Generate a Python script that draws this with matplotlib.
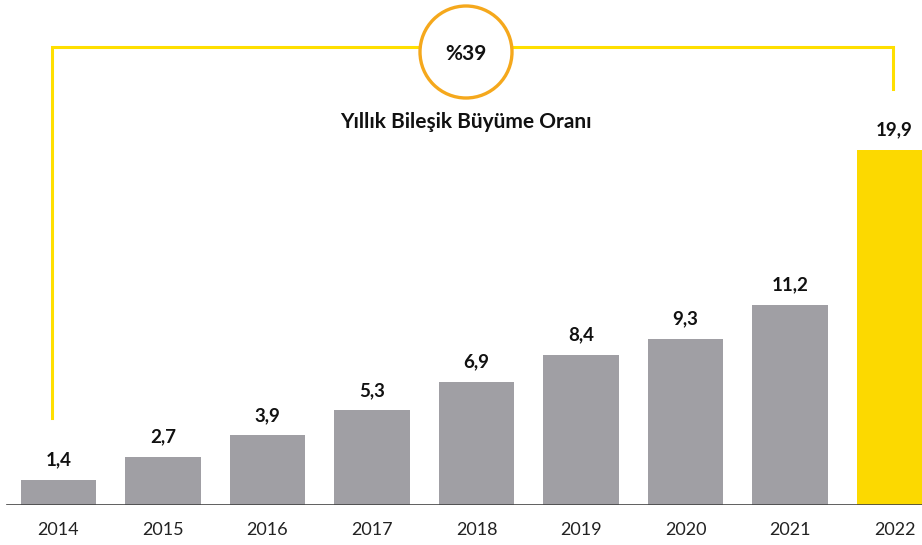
import matplotlib
matplotlib.use("Agg")
import matplotlib.pyplot as plt
from matplotlib.patches import Ellipse
from matplotlib.lines import Line2D

years = ["2014", "2015", "2016", "2017", "2018", "2019", "2020", "2021", "2022"]
values = [1.4, 2.7, 3.9, 5.3, 6.9, 8.4, 9.3, 11.2, 19.9]
value_labels = ["1,4", "2,7", "3,9", "5,3", "6,9", "8,4", "9,3", "11,2", "19,9"]
cagr_label = "%39"
cagr_title = "Yıllık Bileşik Büyüme Oranı"

plt.rcParams['font.family'] = ['Lato', 'DejaVu Sans']

W, H = 922, 545
fig = plt.figure(figsize=(W / 100, H / 100), dpi=100)
ax = fig.add_axes([0, 40 / H, 1, 505 / H])

GRAY = "#A09FA4"
YELLOW = "#FCD900"
colors = [GRAY] * (len(values) - 1) + [YELLOW]
x = list(range(len(values)))
ax.bar(x, values, width=0.72, color=colors)

spacing = 104.5
xmin = -58.5 / spacing
ax.set_xlim(xmin, xmin + W / spacing)
ax.set_ylim(0, 505 / 355 * max(values))

for xi, v, lab in zip(x, values, value_labels):
    ax.annotate(lab, (xi, v), xytext=(0, 10.5), textcoords="offset points",
                ha="center", va="baseline", fontsize=13.5, fontweight="bold",
                color="#111111")

ax.set_xticks(x)
ax.set_xticklabels(years, fontsize=13, color="#222222")
ax.tick_params(axis="x", length=0, pad=12)
ax.set_yticks([])
for s in ax.spines.values():
    s.set_visible(False)
ax.axhline(0, xmin=7 / W, xmax=1, color="#444444", lw=1.2)

def fx(px):
    return px / W

def fy(py):
    return 1 - py / H

bracket_color = "#FFDF00"
fig.add_artist(Line2D([fx(52), fx(52), fx(893), fx(893)],
                      [fy(418), fy(46.5), fy(46.5), fy(89)],
                      transform=fig.transFigure, color=bracket_color, lw=2.2,
                      solid_joinstyle="miter"))

r = 46
fig.add_artist(Ellipse((fx(466), fy(52)), 2 * r / W, 2 * r / H,
                       transform=fig.transFigure, facecolor="white",
                       edgecolor="#F5A81C", lw=2.4, zorder=5))
fig.text(fx(466), fy(54), cagr_label, ha="center", va="center",
         fontsize=15, fontweight="bold", color="#111111", zorder=6)
fig.text(fx(466), fy(122), cagr_title, ha="center", va="center",
         fontsize=15, fontweight="bold", color="#111111")

fig.savefig("out.png", dpi=100, facecolor="white")
